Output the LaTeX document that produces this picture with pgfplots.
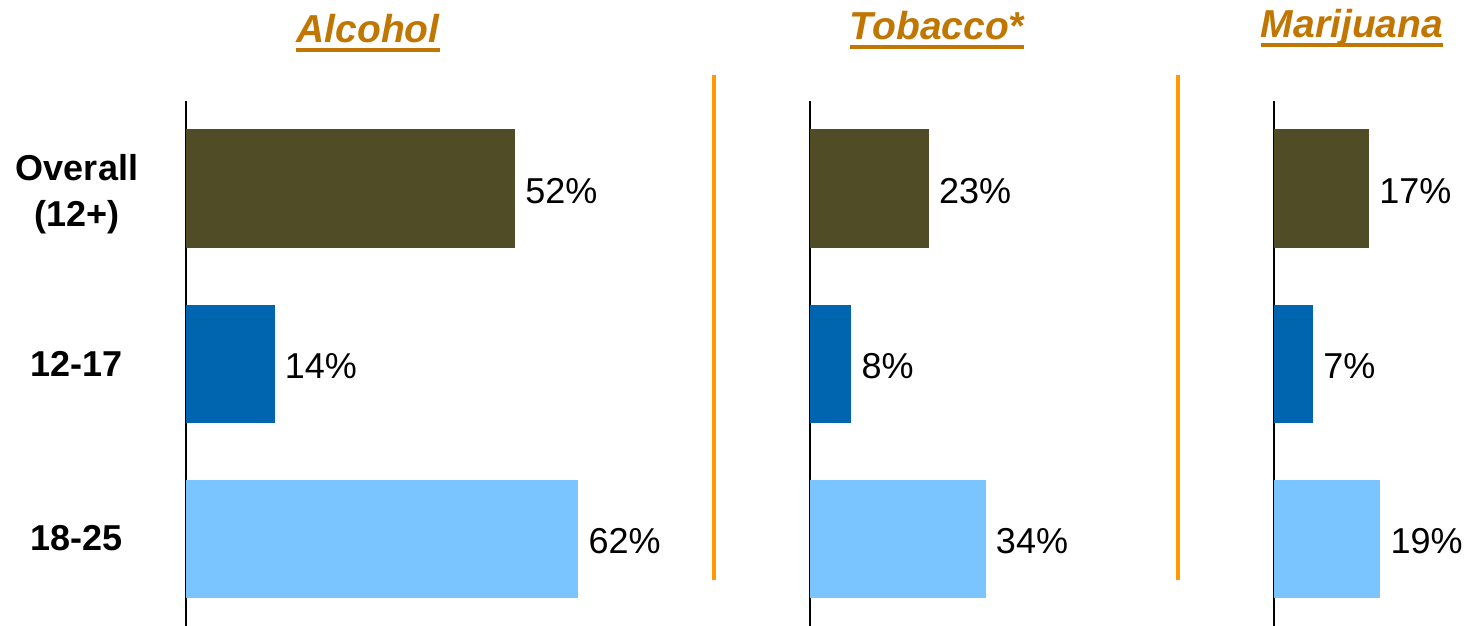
\documentclass[border=0pt]{standalone}
\usepackage{fontspec}
\setmainfont{Liberation Sans}
\usepackage{pgfplots}
\pgfplotsset{compat=1.18}
\definecolor{olivebar}{RGB}{80,76,38}
\definecolor{midblue}{RGB}{0,101,175}
\definecolor{lightblue}{RGB}{122,197,255}
\definecolor{titlecol}{RGB}{192,118,0}
\definecolor{sepcol}{RGB}{255,153,0}
\pgfplotsset{panel/.style={
  xbar, bar shift=0pt, bar width=118pt, scale only axis, height=525pt,
  ymin=-0.5, ymax=2.5, y dir=reverse, xmin=0, anchor=south west,
  axis y line*=left, hide x axis, axis line style={black, line width=1.6pt, -},
  ytick=\empty, clip=false,
  point meta=x,
  nodes near coords={\pgfmathprintnumber[assume math mode=true]{\pgfplotspointmeta}\%},
  every node near coord/.append style={font=\fontsize{36}{40}\selectfont, anchor=west, inner sep=0pt, xshift=10pt, yshift=-3pt, text=black},
}}
\begin{document}
\begin{tikzpicture}
\path[use as bounding box] (0,0) rectangle (1465pt,626pt);
% Alcohol
\begin{axis}[panel, at={(186pt,0pt)}, width=443.1pt, xmax=70,
  ytick={1,2}, yticklabels={{12-17},{18-25}},
  extra y ticks={0}, extra y tick labels={{Overall\\(12+)}},
  extra y tick style={yticklabel style={yshift=-6pt}},
  major tick length=0pt,
  yticklabel style={anchor=center, xshift=-109pt, align=center, font=\bfseries\fontsize{36}{46}\selectfont}]
\addplot[fill=olivebar, draw=none] coordinates {(52,0)};
\addplot[fill=midblue, draw=none] coordinates {(14,1)};
\addplot[fill=lightblue, draw=none] coordinates {(62,2)};
\end{axis}
% Tobacco
\begin{axis}[panel, at={(810pt,0pt)}, width=206.8pt, xmax=40]
\addplot[fill=olivebar, draw=none] coordinates {(23,0)};
\addplot[fill=midblue, draw=none] coordinates {(8,1)};
\addplot[fill=lightblue, draw=none] coordinates {(34,2)};
\end{axis}
% Marijuana
\begin{axis}[panel, at={(1274pt,0pt)}, width=140pt, xmax=25]
\addplot[fill=olivebar, draw=none] coordinates {(17,0)};
\addplot[fill=midblue, draw=none] coordinates {(7,1)};
\addplot[fill=lightblue, draw=none] coordinates {(19,2)};
\end{axis}
% separators
\draw[sepcol, line width=4pt] (714pt,46pt) -- (714pt,551pt);
\draw[sepcol, line width=4pt] (1178pt,46pt) -- (1178pt,551pt);
% titles
\tikzset{ttl/.style={anchor=base, inner sep=0pt, text=titlecol, font=\bfseries\itshape\fontsize{39}{44}\selectfont}}
\node[ttl] (t1) at (368pt,583pt) {Alcohol};
\draw[titlecol, line width=4.5pt] ([yshift=-7pt]t1.base west) -- ([yshift=-7pt]t1.base east);
\node[ttl] (t2) at (937pt,586pt) {Tobacco*};
\draw[titlecol, line width=4.5pt] ([yshift=-7pt]t2.base west) -- ([yshift=-7pt]t2.base east);
\node[ttl] (t3) at (1352pt,588pt) {Marijuana};
\draw[titlecol, line width=4.5pt] ([yshift=-7pt]t3.base west) -- ([yshift=-7pt]t3.base east);
\end{tikzpicture}
\end{document}
